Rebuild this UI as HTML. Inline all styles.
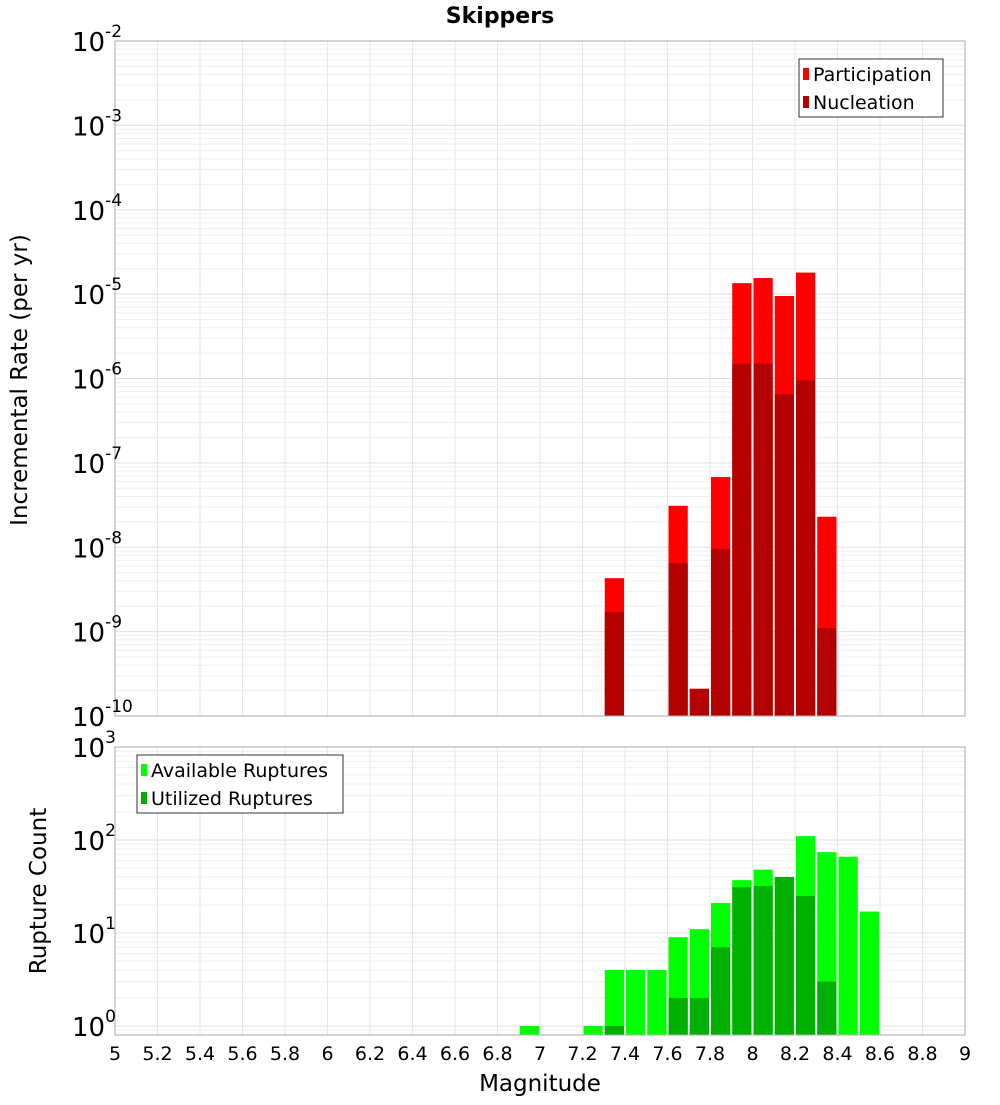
<!DOCTYPE html>
<html><head><meta charset="utf-8"><style>
body{margin:0;background:#fff;font-family:"Liberation Sans","DejaVu Sans",sans-serif}
svg text{font-family:"DejaVu Sans","Liberation Sans",sans-serif}
</style></head><body>
<svg id="c" width="1000" height="1100">
<text x="500" y="23" text-anchor="middle" font-size="22" font-weight="bold">Skippers</text>
</svg>
<script>
const bins=[6.95,7.25,7.35,7.45,7.55,7.65,7.75,7.85,7.95,8.05,8.15,8.25,8.35,8.45,8.55];
const topBins=[7.35,7.65,7.75,7.85,7.95,8.05,8.15,8.25,8.35];
const participation=[4.3e-9,3.1e-8,2.1e-10,6.8e-8,1.35e-5,1.55e-5,9.5e-6,1.8e-5,2.3e-8];
const nucleation=[1.7e-9,6.5e-9,2.1e-10,9.5e-9,1.5e-6,1.5e-6,6.5e-7,9.5e-7,1.1e-9];
const available=[1,1,4,4,4,9,11,21,37,48,40,110,74,66,17];
const utilized=[0,0,1,0,0,2,2,7,31,32,40,25,3,0,0];
const xTicks=[5,5.2,5.4,5.6,5.8,6,6.2,6.4,6.6,6.8,7,7.2,7.4,7.6,7.8,8,8.2,8.4,8.6,8.8,9];
const topExp=[-2,-3,-4,-5,-6,-7,-8,-9,-10];
const botExp=[3,2,1,0];
const NS='http://www.w3.org/2000/svg',svg=document.getElementById('c');
function el(t,a,p){const e=document.createElementNS(NS,t);for(const k in a)e.setAttribute(k,a[k]);(p||svg).appendChild(e);return e;}
const X0=115,X1=965;
const xs=v=>X0+(v-5)/4*(X1-X0);
const T0=41,T1=716; const ty=v=>T0+(-2-Math.log10(v))/8*(T1-T0);
const B0=747,B1=1035; const bmin=0.8,bmax=1000;
const by=v=>B0+(Math.log10(bmax)-Math.log10(v))/(Math.log10(bmax)-Math.log10(bmin))*(B1-B0);
function grid(yf,lo,hi,top,bot){
  for(const t of xTicks){const l=el('line',{x1:xs(t),x2:xs(t),y1:top,y2:bot,stroke:'#e6e6e6'});
  }
  for(let e=lo;e<hi;e++)for(let m=1;m<10;m++){const v=m*Math.pow(10,e);const y=yf(v);if(y<top-0.5||y>bot+0.5)continue;
   const l=el('line',{x1:X0,x2:X1,y1:y,y2:y,stroke:m==1?'#e0e0e0':'#efefef'});
   }
}
grid(ty,-10,-1,T0,T1);
grid(by,-1,3,B0,B1);
const bw=xs(0.1)-xs(0)-2;
topBins.forEach((b,i)=>{
  const x=xs(b)-bw/2;
  let r=el('rect',{x:x,y:ty(participation[i]),width:bw,height:T1-ty(participation[i]),fill:'#ff0000'});
  
  r=el('rect',{x:x,y:ty(nucleation[i]),width:bw,height:T1-ty(nucleation[i]),fill:'#b30000'});
  
});
bins.forEach((b,i)=>{
  const x=xs(b)-bw/2;
  let r=el('rect',{x:x,y:by(available[i]),width:bw,height:B1-by(available[i]),fill:'#00ff00'});
  
  if(utilized[i]>0){r=el('rect',{x:x,y:by(utilized[i]),width:bw,height:B1-by(utilized[i]),fill:'#00b000'});
  }
});
let f=el('rect',{x:X0,y:T0,width:X1-X0,height:T1-T0,fill:'none',stroke:'#aaa'});

f=el('rect',{x:X0,y:B0,width:X1-X0,height:B1-B0,fill:'none',stroke:'#aaa'});

function ylab(y,e,name){const t=el('text',{x:72,y:y+10,'font-size':26});
 
 t.textContent='10';const s=el('tspan',{dy:-14,'font-size':17},t);s.textContent=String(e);}
topExp.forEach(e=>ylab(ty(Math.pow(10,e)),e,'y-tick-label'));
botExp.forEach(e=>ylab(by(Math.pow(10,e)),e,'y-tick-label'));
xTicks.forEach(t=>{const l=el('text',{x:xs(t),y:1060,'font-size':19,'text-anchor':'middle'});
 l.textContent=String(t);});
let a=el('text',{x:540,y:1091,'font-size':23,'text-anchor':'middle'});
a.textContent='Magnitude';
a=el('text',{x:0,y:0,'font-size':23,'text-anchor':'middle',transform:'translate(27,380) rotate(-90)'});
a.textContent='Incremental Rate (per yr)';
a=el('text',{x:0,y:0,'font-size':23,'text-anchor':'middle',transform:'translate(46,891) rotate(-90)'});
a.textContent='Rupture Count';
function legend(x,y,w,items,name){
 const g=el('g',{});
 el('rect',{x:x,y:y,width:w,height:58,fill:'#fff',stroke:'#333'},g);
 items.forEach((it,i)=>{el('rect',{x:x+4,y:y+9+i*28,width:6,height:12,fill:it[1]},g);
  const t=el('text',{x:x+14,y:y+22+i*28,'font-size':19},g);t.textContent=it[0];
  });
}
legend(799,59,144,[['Participation','#ff0000'],['Nucleation','#b30000']],'top-legend');
legend(137,755,206,[['Available Ruptures','#00ff00'],['Utilized Ruptures','#00b000']],'bottom-legend');
</script>
</body></html>
